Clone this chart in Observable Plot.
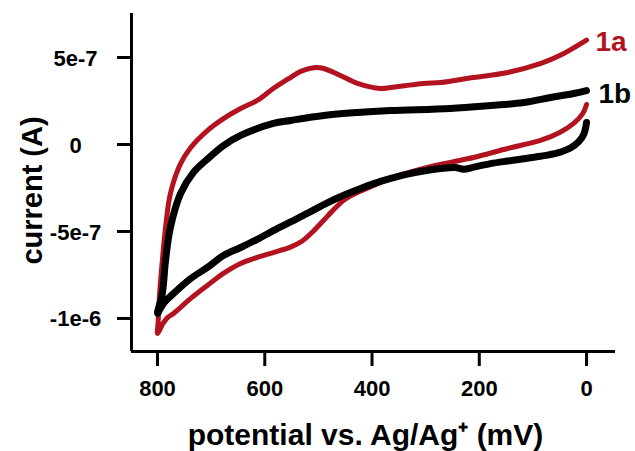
<!DOCTYPE html>
<html>
<head>
<meta charset="utf-8">
<script src="https://cdn.jsdelivr.net/npm/d3@7"></script>
<script src="https://cdn.jsdelivr.net/npm/@observablehq/plot@0.6"></script>
<style>
  html, body { margin: 0; padding: 0; background: #fff; }
</style>
</head>
<body>
<div id="chart"></div>
<script>
// potential (mV) and current (A) for sample 1a (red) — top branch 0→800, bottom branch 800→0
const redV = [0, 50, 85, 147, 211, 272, 304, 365, 384, 427, 459, 490, 505, 533, 552, 584, 614, 645, 677, 707, 738, 757, 776, 785, 791, 796, 799, 800,
  790, 781, 770, 738, 707, 677, 645, 614, 584, 552, 530, 510, 490, 470, 450, 427, 397, 365, 304, 254, 211, 147, 86, 50, 24, 7, 0];
const redI = [6.0e-7, 5.11e-7, 4.66e-7, 4.14e-7, 3.85e-7, 3.56e-7, 3.51e-7, 3.28e-7, 3.22e-7, 3.51e-7, 3.97e-7, 4.37e-7, 4.43e-7, 4.2e-7, 3.85e-7, 3.22e-7, 2.53e-7, 2.07e-7, 1.49e-7, 0.8e-7, -0.17e-7, -1.1e-7, -2.82e-7, -4.77e-7, -6.67e-7, -8.56e-7, -10.3e-7, -10.86e-7,
  -10.3e-7, -9.94e-7, -9.71e-7, -8.85e-7, -8.1e-7, -7.41e-7, -6.84e-7, -6.49e-7, -6.21e-7, -5.9e-7, -5.55e-7, -5.0e-7, -4.35e-7, -3.7e-7, -3.15e-7, -2.76e-7, -2.36e-7, -1.95e-7, -1.38e-7, -1.03e-7, -0.75e-7, -0.23e-7, 0.23e-7, 0.69e-7, 1.21e-7, 1.78e-7, 2.3e-7];

// sample 1b (black)
const blackV = [0, 24, 67, 117, 179, 254, 365, 427, 490, 552, 584, 645, 677, 710, 733, 757, 776, 785, 791, 800,
  789, 770, 738, 707, 677, 645, 614, 584, 552, 520, 490, 459, 427, 397, 365, 334, 304, 272, 245, 229, 210, 179, 147, 117, 86, 54, 30, 15, 5, 0];
const blackI = [3.1e-7, 2.93e-7, 2.7e-7, 2.41e-7, 2.24e-7, 2.07e-7, 1.95e-7, 1.84e-7, 1.67e-7, 1.38e-7, 1.21e-7, 0.52e-7, -0.06e-7, -0.92e-7, -1.6e-7, -2.82e-7, -4.77e-7, -6.67e-7, -8.56e-7, -9.71e-7,
  -9.14e-7, -8.56e-7, -7.7e-7, -7.07e-7, -6.38e-7, -5.92e-7, -5.45e-7, -4.95e-7, -4.45e-7, -3.95e-7, -3.45e-7, -3.0e-7, -2.6e-7, -2.25e-7, -1.95e-7, -1.7e-7, -1.52e-7, -1.38e-7, -1.32e-7, -1.42e-7, -1.3e-7, -1.1e-7, -0.95e-7, -0.82e-7, -0.68e-7, -0.48e-7, -0.2e-7, 0.15e-7, 0.6e-7, 1.26e-7];

const xTicks = [800, 600, 400, 200, 0];
const yTicks = [5e-7, 0, -5e-7, -1e-6];
const seriesLabels = ["1a", "1b"];
const xLabel = "potential vs. Ag/Ag\u207A (mV)";
const yLabel = "current (A)";

const RED = "#b3121f";
const xDomain = [848.5, -54];
const yDomain = [-1.19e-6, 7.53e-7];

const red = redV.map((v, i) => ({v, c: redI[i]}));
const black = blackV.map((v, i) => ({v, c: blackI[i]}));
const fmtY = d => d === 0 ? "0" : d.toExponential().replace("+", "");

const chart = Plot.plot({
  width: 635,
  height: 451,
  marginLeft: 131,
  marginRight: 20,
  marginTop: 13,
  marginBottom: 100,
  x: {domain: xDomain},
  y: {domain: yDomain},
  style: {fontFamily: "'Liberation Sans', Arial, sans-serif", fontWeight: "bold", background: "#fff", color: "#000"},
  marks: [
    Plot.axisX({ticks: xTicks, tickSize: 15, strokeWidth: 3, tickFormat: () => "", label: null}),
    Plot.axisY({ticks: yTicks, tickSize: 14, strokeWidth: 3, tickFormat: () => "", label: null}),
    Plot.ruleX([xDomain[0]], {strokeWidth: 3}),
    Plot.ruleY([yDomain[0]], {strokeWidth: 3}),
    Plot.text(xTicks, {x: d => d, frameAnchor: "bottom", dy: 44, text: d => String(d), fontSize: 22, fontWeight: "bold", letterSpacing: 1.5}),
    Plot.text(yTicks, {y: d => d, frameAnchor: "left", dx: -56, dy: 1, text: fmtY, textAnchor: "middle", fontSize: 22, fontWeight: "bold", letterSpacing: 1.5}),
    Plot.text([xLabel], {frameAnchor: "bottom", dx: -8, dy: 93, text: d => d, textAnchor: "middle", fontSize: 30, fontWeight: "bold"}),
    Plot.text([yLabel], {frameAnchor: "left", dx: -99, dy: 8, rotate: -90, text: d => d, textAnchor: "middle", fontSize: 29, fontWeight: "bold"}),
    Plot.line(red, {x: "v", y: "c", stroke: RED, strokeWidth: 5, curve: "catmull-rom", strokeLinecap: "round", strokeLinejoin: "round"}),
    Plot.line(black, {x: "v", y: "c", stroke: "#000", strokeWidth: 7, curve: "catmull-rom", strokeLinecap: "round", strokeLinejoin: "round"}),
    Plot.text([seriesLabels[0]], {x: [redV[0]], y: [redI[0]], dx: 9, dy: 2, textAnchor: "start", text: d => d, fill: RED, fontSize: 28, fontWeight: "bold"}),
    Plot.text([seriesLabels[1]], {x: [blackV[0]], y: [blackI[0]], dx: 12, dy: 3, textAnchor: "start", text: d => d, fill: "#000", fontSize: 28, fontWeight: "bold"})
  ]
});
document.getElementById("chart").appendChild(chart);
</script>
</body>
</html>
